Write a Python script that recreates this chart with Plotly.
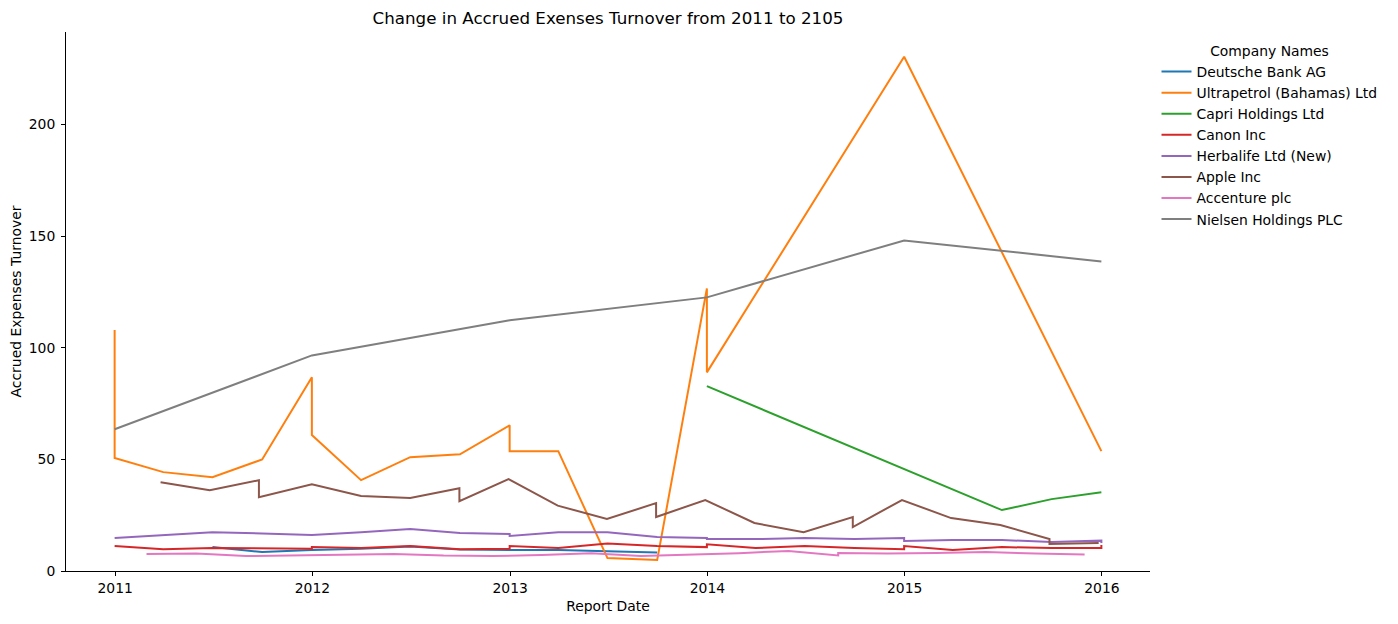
import plotly.graph_objects as go

# ---------------- data ----------------
companies = ["Deutsche Bank AG", "Ultrapetrol (Bahamas) Ltd", "Capri Holdings Ltd", "Canon Inc",
             "Herbalife Ltd (New)", "Apple Inc", "Accenture plc", "Nielsen Holdings PLC"]
colors = ["#1f77b4", "#ff7f0e", "#2ca02c", "#d62728", "#9467bd", "#8c564b", "#e377c2", "#7f7f7f"]

deutsche_dates = ["2011-06-30", "2011-09-30", "2011-12-31", "2012-03-31", "2012-06-30", "2012-09-30",
                  "2012-12-31", "2013-03-31", "2013-06-30", "2013-09-30"]
deutsche_vals = [10.7, 8.5, 9.4, 10.0, 11.0, 9.6, 9.4, 9.4, 8.9, 8.3]

ultra_dates = ["2010-12-31", "2010-12-31", "2011-03-31", "2011-06-30", "2011-09-30", "2011-12-31",
               "2011-12-31", "2012-03-31", "2012-06-30", "2012-09-30", "2012-12-31", "2012-12-31",
               "2013-03-31", "2013-06-30", "2013-09-30", "2013-12-31", "2013-12-31", "2014-12-31",
               "2015-12-31"]
ultra_vals = [108.0, 50.6, 44.3, 42.0, 50.0, 86.8, 60.9, 40.7, 51.0, 52.3, 65.3, 53.7,
              53.7, 5.8, 4.9, 126.6, 89.0, 230.4, 53.7]

capri_dates = ["2013-12-31", "2015-06-30", "2015-09-30", "2015-12-31"]
capri_vals = [82.8, 27.3, 32.2, 35.3]

canon_dates = ["2010-12-31", "2011-03-31", "2011-06-30", "2011-09-30", "2011-12-31", "2011-12-31",
               "2012-03-31", "2012-06-30", "2012-09-30", "2012-12-31", "2012-12-31", "2013-03-31",
               "2013-06-30", "2013-09-30", "2013-12-31", "2013-12-31", "2014-03-31", "2014-06-30",
               "2014-09-30", "2014-12-31", "2014-12-31", "2015-03-31", "2015-06-30", "2015-09-30",
               "2015-12-31", "2015-12-31"]
canon_vals = [11.2, 9.8, 10.3, 10.3, 10.0, 10.8, 10.3, 11.2, 9.8, 10.0, 11.2, 10.3,
              12.3, 11.2, 10.7, 12.0, 10.3, 11.2, 10.3, 9.8, 11.2, 9.4, 10.7, 10.3,
              10.3, 11.6]

herba_dates = ["2010-12-31", "2011-03-31", "2011-06-30", "2011-09-30", "2011-12-31", "2012-03-31",
               "2012-06-30", "2012-09-30", "2012-12-31", "2012-12-31", "2013-03-31", "2013-06-30",
               "2013-09-30", "2013-12-31", "2013-12-31", "2014-03-31", "2014-06-30", "2014-09-30",
               "2014-12-31", "2014-12-31", "2015-03-31", "2015-06-30", "2015-09-30", "2015-12-31",
               "2015-12-31"]
herba_vals = [14.8, 16.1, 17.4, 16.8, 16.1, 17.4, 18.8, 17.0, 16.6, 15.7, 17.4, 17.4,
              15.2, 14.8, 14.3, 14.3, 14.8, 14.3, 14.8, 13.4, 13.9, 13.9, 13.0, 13.6,
              12.6]

apple_dates = ["2011-03-26", "2011-06-25", "2011-09-24", "2011-09-24", "2011-12-31", "2012-03-31",
               "2012-06-30", "2012-09-29", "2012-09-29", "2012-12-29", "2013-03-30", "2013-06-29",
               "2013-09-28", "2013-09-28", "2013-12-28", "2014-03-29", "2014-06-28", "2014-09-27",
               "2014-09-27", "2014-12-27", "2015-03-28", "2015-06-27", "2015-09-26", "2015-09-26",
               "2015-12-26"]
apple_vals = [39.8, 36.2, 40.7, 33.1, 38.9, 33.6, 32.7, 37.1, 31.3, 41.2, 29.3, 23.3,
              30.4, 24.2, 31.8, 21.5, 17.4, 24.2, 19.7, 31.8, 23.7, 20.6, 14.3, 12.1,
              12.5]

accent_dates = ["2011-02-28", "2011-05-31", "2011-08-31", "2011-11-30", "2012-02-29", "2012-05-31",
                "2012-08-31", "2012-11-30", "2013-02-28", "2013-05-31", "2013-08-31", "2013-11-30",
                "2014-02-28", "2014-05-31", "2014-08-31", "2014-08-31", "2014-11-30", "2015-02-28",
                "2015-05-31", "2015-08-31", "2015-11-30"]
accent_vals = [7.6, 7.8, 6.7, 6.9, 7.2, 7.6, 6.9, 6.7, 7.2, 8.0, 6.7, 7.2,
               8.0, 9.0, 7.0, 8.1, 7.8, 8.1, 8.5, 7.8, 7.4]

nielsen_dates = ["2010-12-31", "2011-12-31", "2012-12-31", "2013-12-31", "2014-12-31", "2015-12-31"]
nielsen_vals = [63.5, 96.6, 112.3, 122.6, 148.1, 138.7]

series_dates = [deutsche_dates, ultra_dates, capri_dates, canon_dates, herba_dates,
                apple_dates, accent_dates, nielsen_dates]
series_vals = [deutsche_vals, ultra_vals, capri_vals, canon_vals, herba_vals,
               apple_vals, accent_vals, nielsen_vals]

x_tick_vals = ["2011-01-01", "2012-01-01", "2013-01-01", "2014-01-01", "2015-01-01", "2016-01-01"]
x_tick_text = ["2011", "2012", "2013", "2014", "2015", "2016"]
y_tick_vals = [0, 50, 100, 150, 200]

# ---------------- figure ----------------
fig = go.Figure()
for name, col, d, v in zip(companies, colors, series_dates, series_vals):
    fig.add_trace(go.Scatter(x=d, y=v, mode="lines", name=name,
                             line=dict(color=col, width=2)))

font_family = "DejaVu Sans"
FS = 13.9
W, H = 1390, 616          # page has an 8px body margin
L, R, T, B = 58, 1142, 24, 563   # plot area in figure pixels
fig.update_layout(
    width=W, height=H,
    margin=dict(l=L, r=W - R, t=T, b=H - B, autoexpand=False),
    plot_bgcolor="white", paper_bgcolor="white",
    font=dict(family=font_family, size=FS, color="black"),
    title=dict(text="Change in Accrued Exenses Turnover from 2011 to 2105",
               x=(L + R) / 2 / W, xanchor="center", xref="container",
               y=1 - 10 / H, yanchor="middle", yref="container",
               font=dict(size=16.7, family=font_family, color="black")),
    legend=dict(title=dict(text="Company Names", side="top center",
                           font=dict(size=FS, family=font_family)),
                x=1.006, xanchor="left", y=1 - 6 / (B - T), yanchor="top",
                font=dict(size=FS, family=font_family),
                bgcolor="rgba(0,0,0,0)", tracegroupgap=0, itemwidth=30),
    showlegend=True,
)
fig.update_xaxes(
    type="date", range=["2010-10-02", "2016-03-30"],
    tickvals=x_tick_vals, ticktext=x_tick_text, tickfont=dict(size=FS),
    showgrid=False, zeroline=False, showline=True, linecolor="black", linewidth=1,
    ticks="outside", ticklen=4, tickcolor="black", mirror=False,
    title=dict(text="Report Date", standoff=6, font=dict(size=FS)),
)
fig.update_yaxes(
    range=[0, 241.5], tickvals=y_tick_vals, tickfont=dict(size=FS),
    showgrid=False, zeroline=False, showline=True, linecolor="black", linewidth=1,
    ticks="outside", ticklen=4, tickcolor="black", mirror=False, ticklabelstandoff=3,
    title=dict(text="Accrued Expenses Turnover", standoff=10, font=dict(size=FS)),
)

fig.write_html("out.html")
